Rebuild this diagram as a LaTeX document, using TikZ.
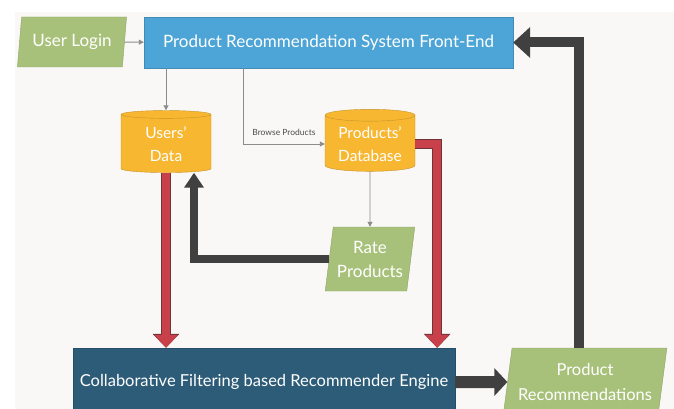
\documentclass[tikz,border=0pt]{standalone}
\usepackage{fontspec}
\setmainfont{Lato}
\usetikzlibrary{arrows.meta, shapes.geometric, positioning, calc}
\definecolor{loginGreen}{RGB}{168, 193, 122}
\definecolor{frontBlue}{RGB}{76, 165, 214}
\definecolor{dbOrange}{RGB}{247, 183, 49}
\definecolor{engineBlue}{RGB}{45, 92, 120}
\definecolor{flowRed}{RGB}{200, 64, 74}
\definecolor{flowRim}{RGB}{110, 52, 56}
\definecolor{flowDark}{RGB}{64, 64, 64}
\definecolor{lineGray}{RGB}{140, 140, 140}
\definecolor{paper}{RGB}{249, 248, 246}

\begin{document}
\begin{tikzpicture}[
          x=1pt, y=-1pt,
          txt/.style={text=white, font=\fontsize{17}{24}\selectfont, align=center, inner sep=1pt},
          box/.style={txt, draw=#1!85!black, fill=#1, minimum height=51pt},
          slant/.style={txt, trapezium, trapezium stretches=true, trapezium left angle=79,
                        trapezium right angle=101, draw=loginGreen!85!black, fill=loginGreen},
          store/.style={txt, font=\fontsize{15.5}{23}\selectfont, cylinder, shape border rotate=90,
                        aspect=0.18, minimum width=90pt, minimum height=62pt,
                        draw=dbOrange!80!black, fill=dbOrange},
          thinarr/.style={-{Triangle[length=5pt, width=5pt]}, line width=0.9pt, color=lineGray},
          redarr/.style={-{Triangle[length=13pt, width=23pt]}, line width=8pt, color=flowRed,
                         preaction={draw=flowRim, line width=10pt, -{Triangle[length=14pt, width=26pt]}}},
          darkarr/.style={-{Triangle[length=#1]}, color=flowDark},
          lbl/.style={font=\fontsize{8.5}{10}\selectfont, color=black!70, inner sep=1pt}
        ]
        \clip (0,0) rectangle (674,409);
        \fill[white] (0,0) rectangle (674,409);
        \fill[paper] (15,12) rectangle (674,409);

        % Front end and login
        \node[box=frontBlue, minimum width=369pt] (front) at (328.5,42.5) {Product Recommendation System Front-End};
        \node[slant, minimum width=110pt, minimum height=50pt] (login) at (72,42) {User Login};
        % Data stores
        \node[store] (users) at (166,144) {Users'\\Data};
        \node[store] (proddb) at (370,144) {Products'\\Database};
        \node[slant, minimum width=90pt, minimum height=64pt] (rate) at (370,259) {Rate\\Products};
        % Engine and output
        \node[box=engineBlue, font=\fontsize{16.5}{24}\selectfont, minimum width=382pt, minimum height=68pt]
             (engine) at (264,382) {Collaborative Filtering based Recommender Engine};
        \node[slant, font=\fontsize{16.5}{25}\selectfont, minimum width=164pt, minimum height=68pt,
              trapezium left angle=78, trapezium right angle=102] (recs) at (585,382) {Product\\Recommendations};

        \coordinate (browse) at (243,68);

        \draw[thinarr] (login) -- (front);
        \draw[thinarr] (users.north |- front.south) -- (users.north);
        \draw[thinarr] (browse) |- (proddb.west)
             node[lbl, pos=0.75, above=7pt] {Browse Products};
        \draw[thinarr] (proddb.south) -- (rate.north);

        \draw[darkarr={15pt, width=19pt}, line width=8pt] (rate.west) -| ([xshift=28pt]users.south);
        \draw[redarr] (users.south) -- (users.south |- engine.north);
        \draw[redarr] (proddb.east) -| ([xshift=-18pt]engine.north east);
        \draw[darkarr={13pt, width=27pt}, line width=12pt] (engine.east) -- (recs.west);
        \draw[darkarr={17pt, width=30pt}, line width=10pt] ([xshift=-6pt]recs.north) |- (front.east);
      \end{tikzpicture}
\end{document}
